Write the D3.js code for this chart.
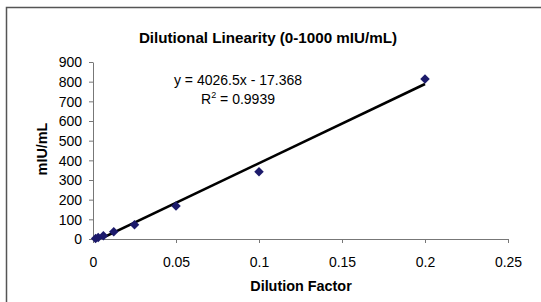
<!DOCTYPE html>
<html>
<head>
<meta charset="utf-8">
<style>
  body { margin: 0; background: #fff; }
  text { font-family: "Liberation Sans", Arial, sans-serif; fill: #000; }
</style>
</head>
<body>
<div id="chart"></div>
<script src="https://cdn.jsdelivr.net/npm/d3@7/dist/d3.min.js"></script>
<script>
// dilution factors and measured concentrations
var dilution = [0.0015625, 0.003125, 0.00625, 0.0125, 0.025, 0.05, 0.1, 0.2];
var measured = [3, 8, 17, 37, 73, 168, 342, 813];
var xTicks = [0, 0.05, 0.1, 0.15, 0.2, 0.25];
var yTicks = [0, 100, 200, 300, 400, 500, 600, 700, 800, 900];
var slope = 4026.5, intercept = -17.368;

var width = 541, height = 302;
var svg = d3.select("#chart").append("svg")
    .attr("width", width).attr("height", height);

// outer frame (top and left edges visible)
svg.append("path")
    .attr("d", "M6.5,302 V7.5 H541")
    .attr("fill", "none").attr("stroke", "#555").attr("stroke-width", 1.5);

var x = d3.scaleLinear().domain([0, 0.25]).range([93, 508]);
var y = d3.scaleLinear().domain([0, 900]).range([239, 62]);

var xAxis = svg.append("g").attr("transform", "translate(0,239)")
    .call(d3.axisBottom(x).tickValues(xTicks).tickSize(4).tickSizeOuter(0)
        .tickFormat(d3.format("")));
var yAxis = svg.append("g").attr("transform", "translate(93,0)")
    .call(d3.axisLeft(y).tickValues(yTicks).tickSize(4).tickSizeOuter(0));

[xAxis, yAxis].forEach(function(a) {
  a.select(".domain").attr("stroke", "#777");
  a.selectAll(".tick line").attr("stroke", "#777");
  a.selectAll("text").style("font-size", "14px").style("font-family", "Liberation Sans, Arial, sans-serif");
});
xAxis.selectAll("text").attr("dy", null).attr("y", 28);
yAxis.selectAll("text").attr("x", -11).attr("dy", "0.35em");

// trendline, clipped to plot area
svg.append("clipPath").attr("id", "clip")
  .append("rect").attr("x", 93).attr("y", 62).attr("width", 415).attr("height", 177);
var x0 = d3.min(dilution), x1 = d3.max(dilution);
svg.append("line")
    .attr("clip-path", "url(#clip)")
    .attr("x1", x(x0)).attr("y1", y(slope * x0 + intercept))
    .attr("x2", x(x1)).attr("y2", y(slope * x1 + intercept))
    .attr("stroke", "#000").attr("stroke-width", 2.6);

// markers
svg.selectAll(".pt").data(dilution).enter().append("path")
    .attr("class", "pt")
    .attr("d", d3.symbol().type(d3.symbolSquare).size(45))
    .attr("transform", function(d, i) {
      return "translate(" + x(d) + "," + y(measured[i]) + ") rotate(45)";
    })
    .attr("fill", "#1c1a6b");

// titles
svg.append("text").attr("x", 268).attr("y", 43).attr("text-anchor", "middle")
    .style("font-size", "15.2px").style("font-weight", "bold")
    .text("Dilutional Linearity (0-1000 mIU/mL)");
svg.append("text").attr("x", 301).attr("y", 291).attr("text-anchor", "middle")
    .style("font-size", "14.4px").style("font-weight", "bold")
    .text("Dilution Factor");
svg.append("text").attr("transform", "translate(47,149) rotate(-90)")
    .attr("text-anchor", "middle")
    .style("font-size", "14.4px").style("font-weight", "bold")
    .text("mIU/mL");

// equation
svg.append("text").attr("x", 238).attr("y", 85).attr("text-anchor", "middle")
    .style("font-size", "14px").text("y = 4026.5x - 17.368");
var r2 = svg.append("text").attr("x", 238).attr("y", 104).attr("text-anchor", "middle")
    .style("font-size", "14px");
r2.append("tspan").text("R");
r2.append("tspan").attr("dy", -6).style("font-size", "9px").text("2");
r2.append("tspan").attr("dy", 6).text(" = 0.9939");
</script>
</body>
</html>
